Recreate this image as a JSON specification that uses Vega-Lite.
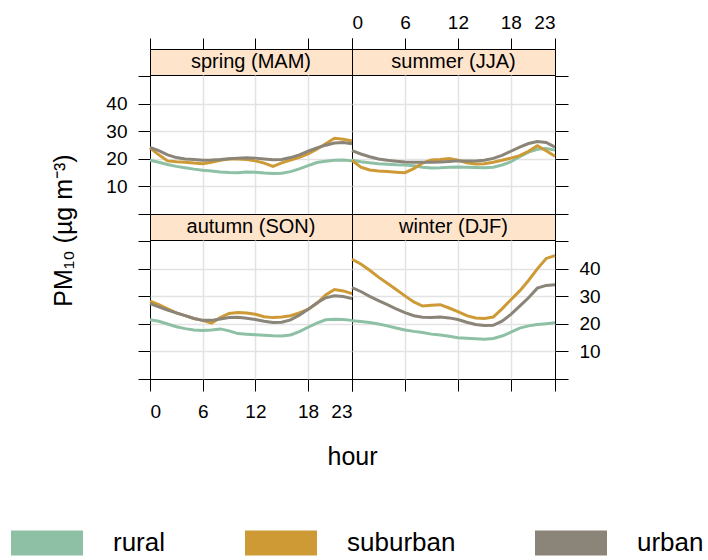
{
"$schema": "https://vega.github.io/schema/vega-lite/v6.json",
"background": "white",
"padding": {"left": 11, "top": 12, "right": 5, "bottom": 5},
"datasets": {"pm": [
{"season":"spring","type":"rural","hour":0,"pm10":19.5},{"season":"spring","type":"rural","hour":1,"pm10":18.8},{"season":"spring","type":"rural","hour":2,"pm10":18.0},{"season":"spring","type":"rural","hour":3,"pm10":17.3},{"season":"spring","type":"rural","hour":4,"pm10":16.8},{"season":"spring","type":"rural","hour":5,"pm10":16.3},{"season":"spring","type":"rural","hour":6,"pm10":15.9},{"season":"spring","type":"rural","hour":7,"pm10":15.6},{"season":"spring","type":"rural","hour":8,"pm10":15.3},{"season":"spring","type":"rural","hour":9,"pm10":15.1},{"season":"spring","type":"rural","hour":10,"pm10":15.0},{"season":"spring","type":"rural","hour":11,"pm10":15.3},{"season":"spring","type":"rural","hour":12,"pm10":15.2},{"season":"spring","type":"rural","hour":13,"pm10":14.9},{"season":"spring","type":"rural","hour":14,"pm10":14.7},{"season":"spring","type":"rural","hour":15,"pm10":14.8},{"season":"spring","type":"rural","hour":16,"pm10":15.4},{"season":"spring","type":"rural","hour":17,"pm10":16.4},{"season":"spring","type":"rural","hour":18,"pm10":17.6},{"season":"spring","type":"rural","hour":19,"pm10":18.7},{"season":"spring","type":"rural","hour":20,"pm10":19.2},{"season":"spring","type":"rural","hour":21,"pm10":19.5},{"season":"spring","type":"rural","hour":22,"pm10":19.6},{"season":"spring","type":"rural","hour":23,"pm10":19.3},
{"season":"spring","type":"suburban","hour":0,"pm10":24.0},{"season":"spring","type":"suburban","hour":1,"pm10":21.5},{"season":"spring","type":"suburban","hour":2,"pm10":19.3},{"season":"spring","type":"suburban","hour":3,"pm10":19.0},{"season":"spring","type":"suburban","hour":4,"pm10":18.8},{"season":"spring","type":"suburban","hour":5,"pm10":18.5},{"season":"spring","type":"suburban","hour":6,"pm10":18.3},{"season":"spring","type":"suburban","hour":7,"pm10":18.8},{"season":"spring","type":"suburban","hour":8,"pm10":19.5},{"season":"spring","type":"suburban","hour":9,"pm10":20.0},{"season":"spring","type":"suburban","hour":10,"pm10":20.0},{"season":"spring","type":"suburban","hour":11,"pm10":19.8},{"season":"spring","type":"suburban","hour":12,"pm10":19.3},{"season":"spring","type":"suburban","hour":13,"pm10":18.5},{"season":"spring","type":"suburban","hour":14,"pm10":17.3},{"season":"spring","type":"suburban","hour":15,"pm10":18.6},{"season":"spring","type":"suburban","hour":16,"pm10":19.6},{"season":"spring","type":"suburban","hour":17,"pm10":20.6},{"season":"spring","type":"suburban","hour":18,"pm10":21.8},{"season":"spring","type":"suburban","hour":19,"pm10":23.5},{"season":"spring","type":"suburban","hour":20,"pm10":25.5},{"season":"spring","type":"suburban","hour":21,"pm10":27.5},{"season":"spring","type":"suburban","hour":22,"pm10":27.2},{"season":"spring","type":"suburban","hour":23,"pm10":26.5},
{"season":"spring","type":"urban","hour":0,"pm10":24.2},{"season":"spring","type":"urban","hour":1,"pm10":23.0},{"season":"spring","type":"urban","hour":2,"pm10":21.5},{"season":"spring","type":"urban","hour":3,"pm10":20.5},{"season":"spring","type":"urban","hour":4,"pm10":20.0},{"season":"spring","type":"urban","hour":5,"pm10":19.8},{"season":"spring","type":"urban","hour":6,"pm10":19.5},{"season":"spring","type":"urban","hour":7,"pm10":19.6},{"season":"spring","type":"urban","hour":8,"pm10":19.8},{"season":"spring","type":"urban","hour":9,"pm10":20.1},{"season":"spring","type":"urban","hour":10,"pm10":20.3},{"season":"spring","type":"urban","hour":11,"pm10":20.4},{"season":"spring","type":"urban","hour":12,"pm10":20.3},{"season":"spring","type":"urban","hour":13,"pm10":20.0},{"season":"spring","type":"urban","hour":14,"pm10":19.7},{"season":"spring","type":"urban","hour":15,"pm10":19.8},{"season":"spring","type":"urban","hour":16,"pm10":20.5},{"season":"spring","type":"urban","hour":17,"pm10":21.5},{"season":"spring","type":"urban","hour":18,"pm10":22.8},{"season":"spring","type":"urban","hour":19,"pm10":24.0},{"season":"spring","type":"urban","hour":20,"pm10":25.0},{"season":"spring","type":"urban","hour":21,"pm10":25.8},{"season":"spring","type":"urban","hour":22,"pm10":26.0},{"season":"spring","type":"urban","hour":23,"pm10":25.5},
{"season":"summer","type":"rural","hour":0,"pm10":19.5},{"season":"summer","type":"rural","hour":1,"pm10":19.0},{"season":"summer","type":"rural","hour":2,"pm10":18.6},{"season":"summer","type":"rural","hour":3,"pm10":18.3},{"season":"summer","type":"rural","hour":4,"pm10":18.1},{"season":"summer","type":"rural","hour":5,"pm10":17.9},{"season":"summer","type":"rural","hour":6,"pm10":17.8},{"season":"summer","type":"rural","hour":7,"pm10":17.5},{"season":"summer","type":"rural","hour":8,"pm10":17.0},{"season":"summer","type":"rural","hour":9,"pm10":16.7},{"season":"summer","type":"rural","hour":10,"pm10":16.8},{"season":"summer","type":"rural","hour":11,"pm10":17.0},{"season":"summer","type":"rural","hour":12,"pm10":17.1},{"season":"summer","type":"rural","hour":13,"pm10":17.0},{"season":"summer","type":"rural","hour":14,"pm10":16.9},{"season":"summer","type":"rural","hour":15,"pm10":16.8},{"season":"summer","type":"rural","hour":16,"pm10":17.0},{"season":"summer","type":"rural","hour":17,"pm10":17.8},{"season":"summer","type":"rural","hour":18,"pm10":19.0},{"season":"summer","type":"rural","hour":19,"pm10":20.8},{"season":"summer","type":"rural","hour":20,"pm10":22.5},{"season":"summer","type":"rural","hour":21,"pm10":23.5},{"season":"summer","type":"rural","hour":22,"pm10":23.8},{"season":"summer","type":"rural","hour":23,"pm10":23.2},
{"season":"summer","type":"suburban","hour":0,"pm10":19.5},{"season":"summer","type":"suburban","hour":1,"pm10":17.0},{"season":"summer","type":"suburban","hour":2,"pm10":16.0},{"season":"summer","type":"suburban","hour":3,"pm10":15.6},{"season":"summer","type":"suburban","hour":4,"pm10":15.4},{"season":"summer","type":"suburban","hour":5,"pm10":15.2},{"season":"summer","type":"suburban","hour":6,"pm10":15.0},{"season":"summer","type":"suburban","hour":7,"pm10":16.5},{"season":"summer","type":"suburban","hour":8,"pm10":18.5},{"season":"summer","type":"suburban","hour":9,"pm10":19.6},{"season":"summer","type":"suburban","hour":10,"pm10":19.8},{"season":"summer","type":"suburban","hour":11,"pm10":20.2},{"season":"summer","type":"suburban","hour":12,"pm10":19.5},{"season":"summer","type":"suburban","hour":13,"pm10":18.6},{"season":"summer","type":"suburban","hour":14,"pm10":18.2},{"season":"summer","type":"suburban","hour":15,"pm10":18.3},{"season":"summer","type":"suburban","hour":16,"pm10":18.8},{"season":"summer","type":"suburban","hour":17,"pm10":19.5},{"season":"summer","type":"suburban","hour":18,"pm10":20.3},{"season":"summer","type":"suburban","hour":19,"pm10":21.2},{"season":"summer","type":"suburban","hour":20,"pm10":22.8},{"season":"summer","type":"suburban","hour":21,"pm10":24.8},{"season":"summer","type":"suburban","hour":22,"pm10":23.0},{"season":"summer","type":"suburban","hour":23,"pm10":21.0},
{"season":"summer","type":"urban","hour":0,"pm10":23.0},{"season":"summer","type":"urban","hour":1,"pm10":21.8},{"season":"summer","type":"urban","hour":2,"pm10":20.8},{"season":"summer","type":"urban","hour":3,"pm10":20.0},{"season":"summer","type":"urban","hour":4,"pm10":19.5},{"season":"summer","type":"urban","hour":5,"pm10":19.2},{"season":"summer","type":"urban","hour":6,"pm10":18.9},{"season":"summer","type":"urban","hour":7,"pm10":18.8},{"season":"summer","type":"urban","hour":8,"pm10":18.8},{"season":"summer","type":"urban","hour":9,"pm10":18.8},{"season":"summer","type":"urban","hour":10,"pm10":18.9},{"season":"summer","type":"urban","hour":11,"pm10":19.1},{"season":"summer","type":"urban","hour":12,"pm10":19.3},{"season":"summer","type":"urban","hour":13,"pm10":19.3},{"season":"summer","type":"urban","hour":14,"pm10":19.3},{"season":"summer","type":"urban","hour":15,"pm10":19.5},{"season":"summer","type":"urban","hour":16,"pm10":20.2},{"season":"summer","type":"urban","hour":17,"pm10":21.3},{"season":"summer","type":"urban","hour":18,"pm10":22.8},{"season":"summer","type":"urban","hour":19,"pm10":24.3},{"season":"summer","type":"urban","hour":20,"pm10":25.6},{"season":"summer","type":"urban","hour":21,"pm10":26.3},{"season":"summer","type":"urban","hour":22,"pm10":26.0},{"season":"summer","type":"urban","hour":23,"pm10":24.3},
{"season":"autumn","type":"rural","hour":0,"pm10":21.5},{"season":"autumn","type":"rural","hour":1,"pm10":21.0},{"season":"autumn","type":"rural","hour":2,"pm10":20.0},{"season":"autumn","type":"rural","hour":3,"pm10":19.0},{"season":"autumn","type":"rural","hour":4,"pm10":18.3},{"season":"autumn","type":"rural","hour":5,"pm10":17.8},{"season":"autumn","type":"rural","hour":6,"pm10":17.6},{"season":"autumn","type":"rural","hour":7,"pm10":17.8},{"season":"autumn","type":"rural","hour":8,"pm10":18.2},{"season":"autumn","type":"rural","hour":9,"pm10":17.5},{"season":"autumn","type":"rural","hour":10,"pm10":16.5},{"season":"autumn","type":"rural","hour":11,"pm10":16.3},{"season":"autumn","type":"rural","hour":12,"pm10":16.1},{"season":"autumn","type":"rural","hour":13,"pm10":15.9},{"season":"autumn","type":"rural","hour":14,"pm10":15.7},{"season":"autumn","type":"rural","hour":15,"pm10":15.6},{"season":"autumn","type":"rural","hour":16,"pm10":16.0},{"season":"autumn","type":"rural","hour":17,"pm10":17.2},{"season":"autumn","type":"rural","hour":18,"pm10":18.8},{"season":"autumn","type":"rural","hour":19,"pm10":20.3},{"season":"autumn","type":"rural","hour":20,"pm10":21.5},{"season":"autumn","type":"rural","hour":21,"pm10":21.7},{"season":"autumn","type":"rural","hour":22,"pm10":21.6},{"season":"autumn","type":"rural","hour":23,"pm10":21.3},
{"season":"autumn","type":"suburban","hour":0,"pm10":28.3},{"season":"autumn","type":"suburban","hour":1,"pm10":27.0},{"season":"autumn","type":"suburban","hour":2,"pm10":25.5},{"season":"autumn","type":"suburban","hour":3,"pm10":24.0},{"season":"autumn","type":"suburban","hour":4,"pm10":23.0},{"season":"autumn","type":"suburban","hour":5,"pm10":22.0},{"season":"autumn","type":"suburban","hour":6,"pm10":21.3},{"season":"autumn","type":"suburban","hour":7,"pm10":20.3},{"season":"autumn","type":"suburban","hour":8,"pm10":22.3},{"season":"autumn","type":"suburban","hour":9,"pm10":23.8},{"season":"autumn","type":"suburban","hour":10,"pm10":24.2},{"season":"autumn","type":"suburban","hour":11,"pm10":24.0},{"season":"autumn","type":"suburban","hour":12,"pm10":23.5},{"season":"autumn","type":"suburban","hour":13,"pm10":22.6},{"season":"autumn","type":"suburban","hour":14,"pm10":22.3},{"season":"autumn","type":"suburban","hour":15,"pm10":22.5},{"season":"autumn","type":"suburban","hour":16,"pm10":23.0},{"season":"autumn","type":"suburban","hour":17,"pm10":24.0},{"season":"autumn","type":"suburban","hour":18,"pm10":25.3},{"season":"autumn","type":"suburban","hour":19,"pm10":27.5},{"season":"autumn","type":"suburban","hour":20,"pm10":30.5},{"season":"autumn","type":"suburban","hour":21,"pm10":32.5},{"season":"autumn","type":"suburban","hour":22,"pm10":32.0},{"season":"autumn","type":"suburban","hour":23,"pm10":31.0},
{"season":"autumn","type":"urban","hour":0,"pm10":27.4},{"season":"autumn","type":"urban","hour":1,"pm10":26.2},{"season":"autumn","type":"urban","hour":2,"pm10":25.0},{"season":"autumn","type":"urban","hour":3,"pm10":24.0},{"season":"autumn","type":"urban","hour":4,"pm10":23.0},{"season":"autumn","type":"urban","hour":5,"pm10":22.0},{"season":"autumn","type":"urban","hour":6,"pm10":21.3},{"season":"autumn","type":"urban","hour":7,"pm10":21.3},{"season":"autumn","type":"urban","hour":8,"pm10":21.8},{"season":"autumn","type":"urban","hour":9,"pm10":22.3},{"season":"autumn","type":"urban","hour":10,"pm10":22.4},{"season":"autumn","type":"urban","hour":11,"pm10":22.1},{"season":"autumn","type":"urban","hour":12,"pm10":21.6},{"season":"autumn","type":"urban","hour":13,"pm10":21.0},{"season":"autumn","type":"urban","hour":14,"pm10":20.5},{"season":"autumn","type":"urban","hour":15,"pm10":20.6},{"season":"autumn","type":"urban","hour":16,"pm10":21.5},{"season":"autumn","type":"urban","hour":17,"pm10":23.2},{"season":"autumn","type":"urban","hour":18,"pm10":25.3},{"season":"autumn","type":"urban","hour":19,"pm10":27.6},{"season":"autumn","type":"urban","hour":20,"pm10":29.5},{"season":"autumn","type":"urban","hour":21,"pm10":30.2},{"season":"autumn","type":"urban","hour":22,"pm10":30.0},{"season":"autumn","type":"urban","hour":23,"pm10":29.2},
{"season":"winter","type":"rural","hour":0,"pm10":21.2},{"season":"winter","type":"rural","hour":1,"pm10":20.9},{"season":"winter","type":"rural","hour":2,"pm10":20.5},{"season":"winter","type":"rural","hour":3,"pm10":20.0},{"season":"winter","type":"rural","hour":4,"pm10":19.3},{"season":"winter","type":"rural","hour":5,"pm10":18.5},{"season":"winter","type":"rural","hour":6,"pm10":17.8},{"season":"winter","type":"rural","hour":7,"pm10":17.3},{"season":"winter","type":"rural","hour":8,"pm10":16.9},{"season":"winter","type":"rural","hour":9,"pm10":16.3},{"season":"winter","type":"rural","hour":10,"pm10":16.0},{"season":"winter","type":"rural","hour":11,"pm10":15.5},{"season":"winter","type":"rural","hour":12,"pm10":15.0},{"season":"winter","type":"rural","hour":13,"pm10":14.8},{"season":"winter","type":"rural","hour":14,"pm10":14.6},{"season":"winter","type":"rural","hour":15,"pm10":14.4},{"season":"winter","type":"rural","hour":16,"pm10":14.7},{"season":"winter","type":"rural","hour":17,"pm10":15.6},{"season":"winter","type":"rural","hour":18,"pm10":17.0},{"season":"winter","type":"rural","hour":19,"pm10":18.5},{"season":"winter","type":"rural","hour":20,"pm10":19.3},{"season":"winter","type":"rural","hour":21,"pm10":19.8},{"season":"winter","type":"rural","hour":22,"pm10":20.1},{"season":"winter","type":"rural","hour":23,"pm10":20.4},
{"season":"winter","type":"suburban","hour":0,"pm10":43.5},{"season":"winter","type":"suburban","hour":1,"pm10":41.8},{"season":"winter","type":"suburban","hour":2,"pm10":39.5},{"season":"winter","type":"suburban","hour":3,"pm10":37.0},{"season":"winter","type":"suburban","hour":4,"pm10":34.8},{"season":"winter","type":"suburban","hour":5,"pm10":32.5},{"season":"winter","type":"suburban","hour":6,"pm10":30.2},{"season":"winter","type":"suburban","hour":7,"pm10":28.0},{"season":"winter","type":"suburban","hour":8,"pm10":26.5},{"season":"winter","type":"suburban","hour":9,"pm10":26.8},{"season":"winter","type":"suburban","hour":10,"pm10":27.0},{"season":"winter","type":"suburban","hour":11,"pm10":25.8},{"season":"winter","type":"suburban","hour":12,"pm10":24.5},{"season":"winter","type":"suburban","hour":13,"pm10":23.0},{"season":"winter","type":"suburban","hour":14,"pm10":22.2},{"season":"winter","type":"suburban","hour":15,"pm10":22.0},{"season":"winter","type":"suburban","hour":16,"pm10":22.5},{"season":"winter","type":"suburban","hour":17,"pm10":25.5},{"season":"winter","type":"suburban","hour":18,"pm10":28.8},{"season":"winter","type":"suburban","hour":19,"pm10":32.0},{"season":"winter","type":"suburban","hour":20,"pm10":35.8},{"season":"winter","type":"suburban","hour":21,"pm10":40.0},{"season":"winter","type":"suburban","hour":22,"pm10":43.8},{"season":"winter","type":"suburban","hour":23,"pm10":44.8},
{"season":"winter","type":"urban","hour":0,"pm10":33.2},{"season":"winter","type":"urban","hour":1,"pm10":31.8},{"season":"winter","type":"urban","hour":2,"pm10":30.0},{"season":"winter","type":"urban","hour":3,"pm10":28.5},{"season":"winter","type":"urban","hour":4,"pm10":27.0},{"season":"winter","type":"urban","hour":5,"pm10":25.5},{"season":"winter","type":"urban","hour":6,"pm10":24.1},{"season":"winter","type":"urban","hour":7,"pm10":23.0},{"season":"winter","type":"urban","hour":8,"pm10":22.4},{"season":"winter","type":"urban","hour":9,"pm10":22.3},{"season":"winter","type":"urban","hour":10,"pm10":22.5},{"season":"winter","type":"urban","hour":11,"pm10":22.2},{"season":"winter","type":"urban","hour":12,"pm10":21.6},{"season":"winter","type":"urban","hour":13,"pm10":20.6},{"season":"winter","type":"urban","hour":14,"pm10":19.8},{"season":"winter","type":"urban","hour":15,"pm10":19.4},{"season":"winter","type":"urban","hour":16,"pm10":19.5},{"season":"winter","type":"urban","hour":17,"pm10":21.0},{"season":"winter","type":"urban","hour":18,"pm10":23.5},{"season":"winter","type":"urban","hour":19,"pm10":26.5},{"season":"winter","type":"urban","hour":20,"pm10":29.5},{"season":"winter","type":"urban","hour":21,"pm10":33.0},{"season":"winter","type":"urban","hour":22,"pm10":34.0},{"season":"winter","type":"urban","hour":23,"pm10":34.2}
]},
"columns": 2,
"spacing": 0,
"bounds": "flush",
"concat": [
{"width": 202, "height": 26, "view": {"fill": "#FFE4CC", "stroke": "black"},
 "data": {"values": [{"label": "spring (MAM)"}]},
 "mark": {"type": "text", "fontSize": 20, "baseline": "middle", "align": "center", "color": "black"},
 "encoding": {"text": {"field": "label"},
  "x": {"datum": 11.5, "type": "quantitative", "scale": {"domain": [0, 23], "nice": false, "zero": false},
   "axis": {"orient": "top", "values": [0, 6, 12, 18, 23], "labels": false, "grid": false, "domain": false, "title": null, "tickSize": 11}}}},
{"width": 203, "height": 26, "view": {"fill": "#FFE4CC", "stroke": "black"},
 "data": {"values": [{"label": "summer (JJA)"}]},
 "mark": {"type": "text", "fontSize": 20, "baseline": "middle", "align": "center", "color": "black"},
 "encoding": {"text": {"field": "label"},
  "x": {"datum": 11.5, "type": "quantitative", "scale": {"domain": [0, 23], "nice": false, "zero": false},
   "axis": {"orient": "top", "values": [0, 6, 12, 18, 23], "labels": true, "grid": false, "domain": false, "title": null, "tickSize": 11, "labelPadding": 6}}}},
{"width": 202, "height": 139, "data": {"name": "pm"},
 "transform": [{"filter": "datum.season == 'spring'"}],
 "mark": {"type": "line", "strokeWidth": 3},
 "encoding": {
  "x": {"field": "hour", "type": "quantitative", "scale": {"domain": [0, 23], "nice": false, "zero": false},
   "axis": {"orient": "bottom", "values": [6, 12, 18], "grid": true, "ticks": false, "labels": false, "domain": false, "title": null}},
  "y": {"field": "pm10", "type": "quantitative", "scale": {"domain": [0, 50.5], "nice": false, "zero": false},
   "axis": {"orient": "left", "values": [0, 10, 20, 30, 40, 50], "grid": true,
    "gridOpacity": {"condition": {"test": "datum.value == 0 || datum.value == 50", "value": 0}, "value": 1},
    "labelExpr": "datum.value == 0 || datum.value == 50 ? '' : datum.label",
    "title": "PM₁₀ (µg m⁻³)", "titleX": -74, "titleY": 155, "titleAngle": 270, "titleBaseline": "bottom", "titleAlign": "center", "titleFontSize": 25}},
  "color": {"field": "type", "type": "nominal", "scale": {"domain": ["rural", "suburban", "urban"], "range": ["#8DC0A4", "#CD9A36", "#8B8478"]},
   "legend": {"orient": "none", "legendX": -139, "legendY": 458, "direction": "horizontal", "title": null,
    "symbolType": "M-1,-0.347L1,-0.347L1,0.347L-1,0.347Z", "symbolSize": 5184, "symbolStrokeWidth": 0,
    "labelFontSize": 26, "labelOffset": 30, "columnPadding": 79, "labelColor": "black", "labelLimit": 0,
    "encode": {"symbols": {"update": {"fill": {"scale": "color", "field": "value"}, "opacity": {"value": 1}}}}}}}},
{"width": 203, "height": 139, "data": {"name": "pm"},
 "transform": [{"filter": "datum.season == 'summer'"}],
 "mark": {"type": "line", "strokeWidth": 3},
 "encoding": {
  "x": {"field": "hour", "type": "quantitative", "scale": {"domain": [0, 23], "nice": false, "zero": false},
   "axis": {"orient": "bottom", "values": [6, 12, 18], "grid": true, "ticks": false, "labels": false, "domain": false, "title": null}},
  "y": {"field": "pm10", "type": "quantitative", "scale": {"domain": [0, 50.5], "nice": false, "zero": false},
   "axis": {"orient": "right", "values": [0, 10, 20, 30, 40, 50], "grid": true, "labels": false, "tickSize": 13,
    "gridOpacity": {"condition": {"test": "datum.value == 0 || datum.value == 50", "value": 0}, "value": 1}, "title": null}},
  "color": {"field": "type", "type": "nominal", "scale": {"domain": ["rural", "suburban", "urban"], "range": ["#8DC0A4", "#CD9A36", "#8B8478"]}}}},
{"width": 202, "height": 26, "view": {"fill": "#FFE4CC", "stroke": "black"},
 "data": {"values": [{"label": "autumn (SON)"}]},
 "mark": {"type": "text", "fontSize": 20, "baseline": "middle", "align": "center", "color": "black"},
 "encoding": {"text": {"field": "label"}}},
{"width": 203, "height": 26, "view": {"fill": "#FFE4CC", "stroke": "black"},
 "data": {"values": [{"label": "winter (DJF)"}]},
 "mark": {"type": "text", "fontSize": 20, "baseline": "middle", "align": "center", "color": "black"},
 "encoding": {"text": {"field": "label"}}},
{"width": 202, "height": 139, "data": {"name": "pm"},
 "transform": [{"filter": "datum.season == 'autumn'"}],
 "mark": {"type": "line", "strokeWidth": 3},
 "encoding": {
  "x": {"field": "hour", "type": "quantitative", "scale": {"domain": [0, 23], "nice": false, "zero": false},
   "axis": {"orient": "bottom", "values": [0, 6, 12, 18, 23], "grid": true,
    "gridOpacity": {"condition": {"test": "datum.value == 0 || datum.value == 23", "value": 0}, "value": 1},
    "title": "hour", "titleFontSize": 25, "titleX": 202, "titleY": 85, "titleBaseline": "alphabetic", "titleAlign": "center"}},
  "y": {"field": "pm10", "type": "quantitative", "scale": {"domain": [0, 50.5], "nice": false, "zero": false},
   "axis": {"orient": "left", "values": [0, 10, 20, 30, 40, 50], "grid": true, "labels": false,
    "gridOpacity": {"condition": {"test": "datum.value == 0 || datum.value == 50", "value": 0}, "value": 1}, "title": null}},
  "color": {"field": "type", "type": "nominal", "scale": {"domain": ["rural", "suburban", "urban"], "range": ["#8DC0A4", "#CD9A36", "#8B8478"]}}}},
{"width": 203, "height": 139, "data": {"name": "pm"},
 "transform": [{"filter": "datum.season == 'winter'"}],
 "mark": {"type": "line", "strokeWidth": 3},
 "encoding": {
  "x": {"field": "hour", "type": "quantitative", "scale": {"domain": [0, 23], "nice": false, "zero": false},
   "axis": {"orient": "bottom", "values": [0, 6, 12, 18, 23], "grid": true, "labels": false,
    "gridOpacity": {"condition": {"test": "datum.value == 0 || datum.value == 23", "value": 0}, "value": 1}, "title": null}},
  "y": {"field": "pm10", "type": "quantitative", "scale": {"domain": [0, 50.5], "nice": false, "zero": false},
   "axis": {"orient": "right", "values": [0, 10, 20, 30, 40, 50], "grid": true, "tickSize": 13,
    "gridOpacity": {"condition": {"test": "datum.value == 0 || datum.value == 50", "value": 0}, "value": 1},
    "labelExpr": "datum.value == 0 || datum.value == 50 ? '' : datum.label", "title": null}},
  "color": {"field": "type", "type": "nominal", "scale": {"domain": ["rural", "suburban", "urban"], "range": ["#8DC0A4", "#CD9A36", "#8B8478"]}}}}
],
"config": {
 "font": "Liberation Sans",
 "view": {"stroke": "black", "strokeWidth": 1},
 "axis": {"labelFontSize": 19, "labelColor": "black", "tickColor": "black", "tickSize": 12, "tickWidth": 1, "labelPadding": 11, "domain": false,
  "gridColor": "#E3E3E3", "gridWidth": 1.5, "titleColor": "black", "titleFontWeight": "normal", "labelFont": "Liberation Sans", "titleFont": "Liberation Sans"},
 "legend": {"labelFont": "Liberation Sans"},
 "text": {"font": "Liberation Sans"}
}
}
